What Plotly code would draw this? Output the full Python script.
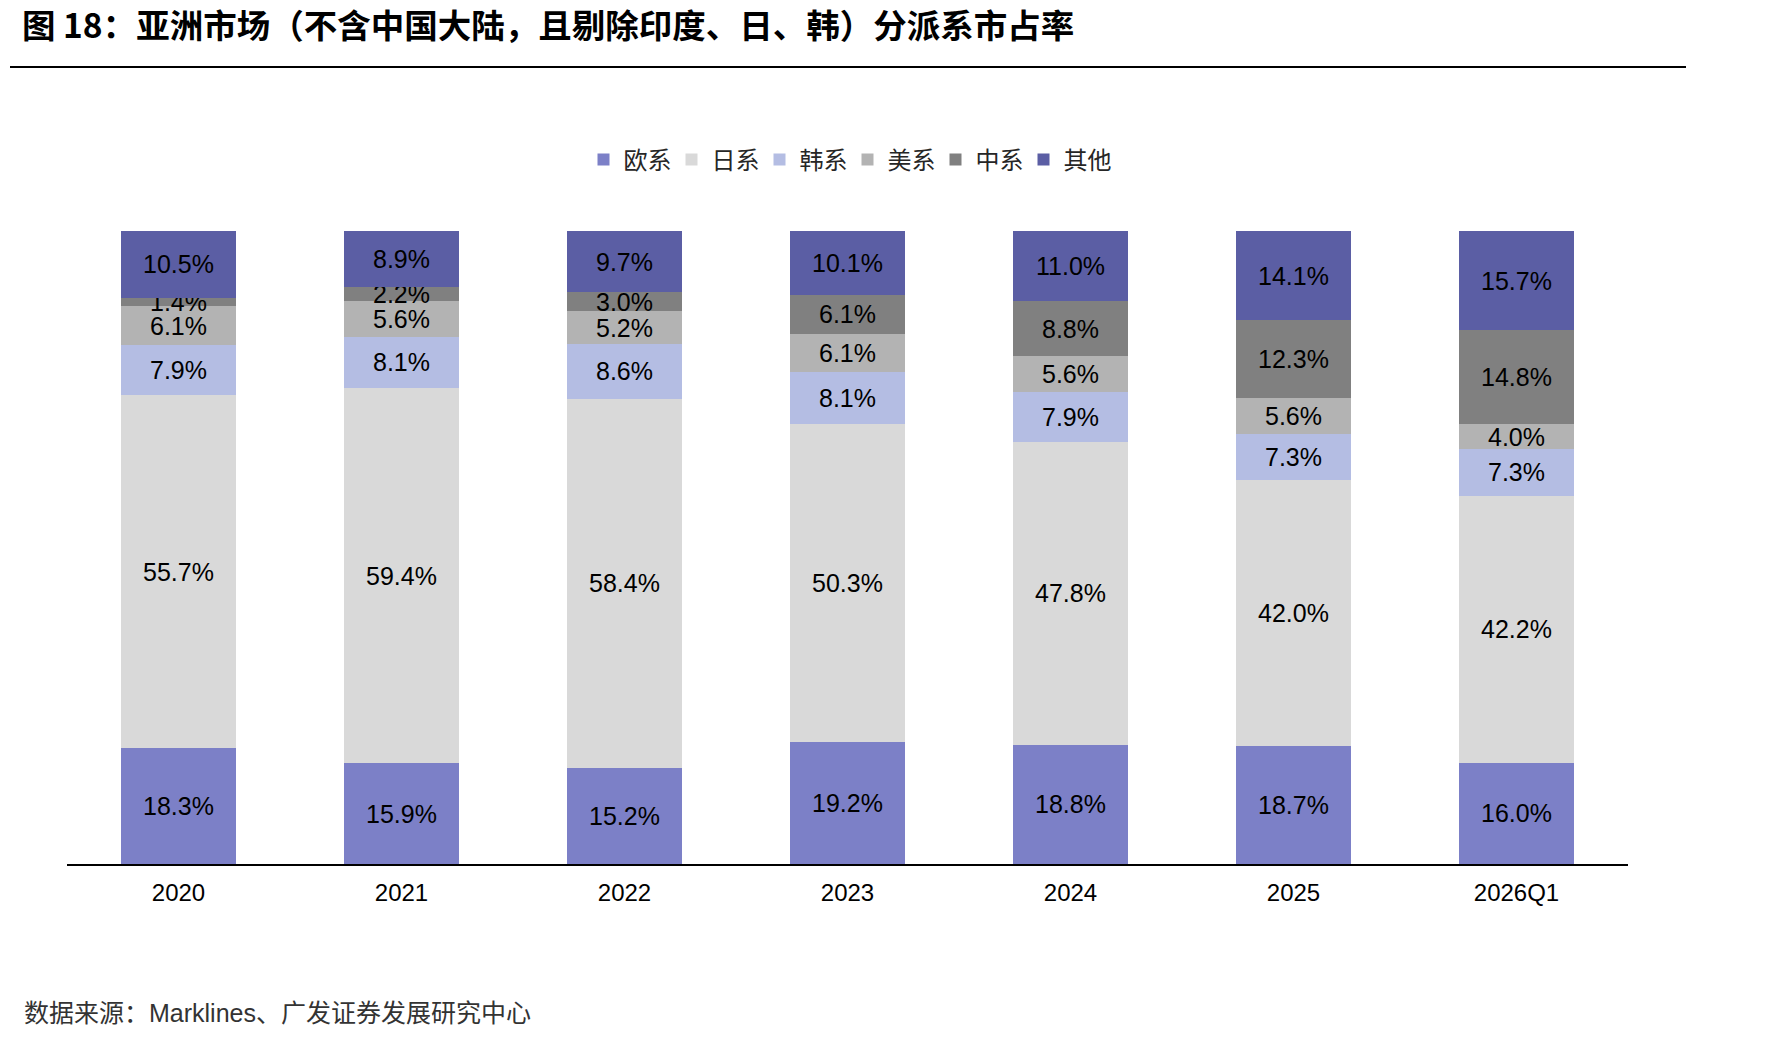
import plotly.graph_objects as go

categories = ["2020", "2021", "2022", "2023", "2024", "2025", "2026Q1"]
series_names = ["欧系", "日系", "韩系", "美系", "中系", "其他"]
eu = [18.3, 15.9, 15.2, 19.2, 18.8, 18.7, 16.0]
jp = [55.7, 59.4, 58.4, 50.3, 47.8, 42.0, 42.2]
kr = [7.9, 8.1, 8.6, 8.1, 7.9, 7.3, 7.3]
us = [6.1, 5.6, 5.2, 6.1, 5.6, 5.6, 4.0]
cn = [1.4, 2.2, 3.0, 6.1, 8.8, 12.3, 14.8]
other = [10.5, 8.9, 9.7, 10.1, 11.0, 14.1, 15.7]
colors = ["#7C80C7", "#D9D9D9", "#B4BDE3", "#B3B3B3", "#808080", "#5B5EA4"]

W, H = 1790, 1041
L, R, T, B = 67, 1628, 231, 864

fig = go.Figure()
for name, vals, col in zip(series_names, [eu, jp, kr, us, cn, other], colors):
    fig.add_trace(go.Bar(
        name=name, x=categories, y=vals,
        marker=dict(color=col, line=dict(width=0)),
        text=[f"{v:.1f}%" for v in vals],
        textposition="inside", insidetextanchor="middle",
        textfont=dict(family="Liberation Sans, Arial", size=25, color="#000000"),
        hoverinfo="skip",
    ))

def px(xp):
    return (xp - L) / (R - L)

def py(yp):
    return (B - yp) / (B - T)

fig.update_layout(
    width=W, height=H,
    barmode="stack", barnorm="percent", bargap=0.484,
    plot_bgcolor="white", paper_bgcolor="white",
    margin=dict(l=L, r=W - R, t=T, b=H - B, autoexpand=False),
    uniformtext=dict(mode="show", minsize=25),
    title=dict(
        text="<b>图 18：亚洲市场（不含中国大陆，且剔除印度、日、韩）分派系市占率</b>",
        x=22 / W, xanchor="left", xref="container",
        y=1 - 26 / H, yanchor="middle", yref="container",
        font=dict(family="Noto Sans CJK SC", size=33.5, color="#000000"),
    ),
    legend=dict(
        orientation="h", x=0.5, xanchor="center",
        y=1 - 160 / H, yanchor="middle", yref="container",
        font=dict(family="Noto Sans CJK SC", size=24, color="#262626"),
        traceorder="normal", itemclick=False, itemdoubleclick=False,
        entrywidth=43, entrywidthmode="pixels",
    ),
    xaxis=dict(
        showline=True, linecolor="#000000", linewidth=1.5,
        ticks="", showgrid=False, ticklabelstandoff=6,
        tickfont=dict(family="Liberation Sans, Arial", size=24, color="#000000"),
    ),
    yaxis=dict(range=[0, 100], visible=False, showgrid=False),
    showlegend=True,
)

fig.add_shape(type="line", xref="paper", yref="paper",
              x0=px(10), x1=px(1686), y0=py(67), y1=py(67),
              line=dict(color="#000000", width=2))

fig.add_annotation(
    text="数据来源：Marklines、广发证券发展研究中心",
    xref="paper", yref="paper", x=px(22), y=py(1013),
    xanchor="left", yanchor="middle", showarrow=False,
    font=dict(family="Liberation Sans, Noto Sans CJK SC", size=25, color="#333333"),
)

fig.write_html("out.html")
